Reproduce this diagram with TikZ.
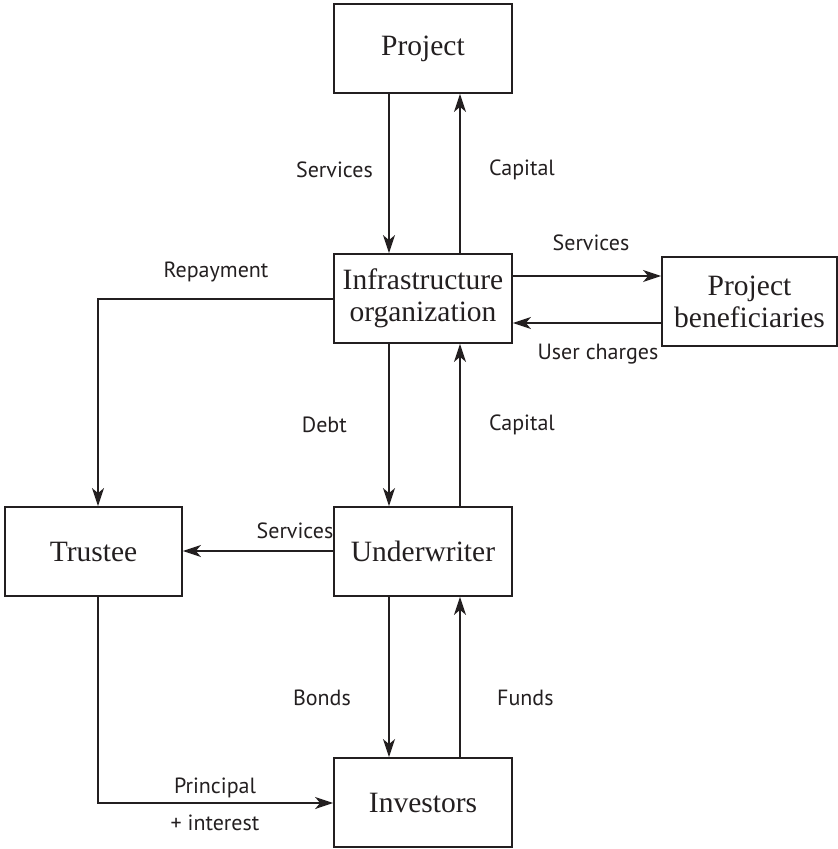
\documentclass[tikz,border=0pt]{standalone}
\usepackage{fontspec}
\setmainfont{Liberation Serif}
\newfontfamily\labfont{PT Sans}
\usetikzlibrary{arrows.meta}
\definecolor{ink}{HTML}{231F20}
\begin{document}
\begin{tikzpicture}[x=1pt,y=-1pt,
  box/.style={draw=ink,line width=1.8pt,minimum width=178pt,minimum height=89pt,inner sep=0pt,
    text=ink,align=center,font=\fontsize{29.5}{32}\selectfont},
  conn/.style={draw=ink,line width=1.8pt,-{Stealth[length=18pt,width=12pt,inset=5pt]}},
  lab/.style={text=ink,inner sep=0pt,font=\labfont\fontsize{22}{24}\selectfont}]
\useasboundingbox (0,0) rectangle (838,849);
\node[box] (proj) at (423,48.5) {Project};
\node[box] (infra) at (423,298.5) {Infrastructure\\organization};
\node[box,minimum width=175pt] (ben) at (749.5,301.5) {Project\\beneficiaries};
\node[box,minimum width=177pt] (trus) at (93.5,551.5) {Trustee};
\node[box] (under) at (423,551.5) {Underwriter};
\node[box] (inv) at (423,802.5) {Investors};
% project <-> infra
\draw[conn] (proj.south -| 389,0) -- (infra.north -| 389,0);
\draw[conn] (infra.north -| 460,0) -- (proj.south -| 460,0);
\node[lab,anchor=east] (l1) at (373,170) {Services};
\node[lab,anchor=west] (l2) at (489,170) {Capital};
% infra <-> beneficiaries
\draw[conn] (infra.east |- 0,276) -- (ben.west |- 0,276);
\draw[conn] (ben.west |- 0,323) -- (infra.east |- 0,323);
\node[lab] (l3) at (591,243) {Services};
\node[lab] (l4) at (598,354) {User charges};
% repayment
\draw[conn] (infra.west |- 0,299) -| (trus.north -| 98,0);
\node[lab] (l5) at (216,272) {Repayment};
% infra <-> underwriter
\draw[conn] (infra.south -| 389,0) -- (under.north -| 389,0);
\draw[conn] (under.north -| 460,0) -- (infra.south -| 460,0);
\node[lab,anchor=east] (l6) at (347,425) {Debt};
\node[lab,anchor=west] (l7) at (489,425) {Capital};
% underwriter -> trustee
\draw[conn] (under.west |- 0,551) -- (trus.east |- 0,551);
\node[lab] (l8) at (295,531) {Services};
% underwriter <-> investors
\draw[conn] (under.south -| 389,0) -- (inv.north -| 389,0);
\draw[conn] (inv.north -| 460,0) -- (under.south -| 460,0);
\node[lab,anchor=east] (l9) at (351,698) {Bonds};
\node[lab,anchor=west] (l10) at (497,698) {Funds};
% trustee -> investors
\draw[conn] (trus.south -| 98,0) |- (inv.west |- 0,803);
\node[lab] (l11) at (215,788) {Principal};
\node[lab] (l12) at (215,823) {+ interest};
\end{tikzpicture}
\end{document}
